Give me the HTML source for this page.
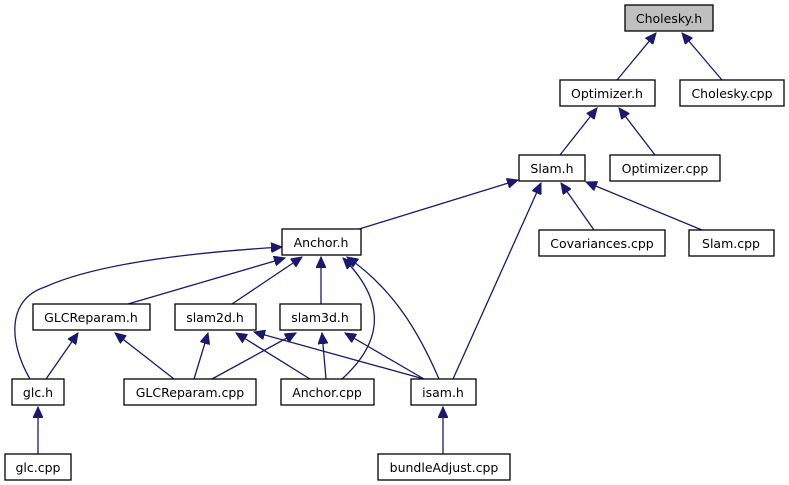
<!DOCTYPE html>
<html><head><meta charset="utf-8"><style>
html,body{margin:0;padding:0;background:#fff;}
svg{display:block;}
text{font-family:"DejaVu Sans","Liberation Sans",sans-serif;font-size:12.5px;fill:#000;text-anchor:middle;}
rect{fill:#fff;stroke:#000;stroke-width:1.3;}
.e{fill:none;stroke:#191970;stroke-width:1.3;}
</style></head><body>
<svg width="789" height="485" viewBox="0 0 789 485" xmlns="http://www.w3.org/2000/svg">
<defs>
<marker id="a" markerWidth="12" markerHeight="10" refX="11" refY="5" orient="auto" markerUnits="userSpaceOnUse">
<path d="M0,0 L11,5 L0,10 Z" fill="#191970" stroke="#191970"/>
</marker>
</defs>
<g class="edges">
<path class="e" marker-end="url(#a)" d="M617,80 L656,33"/>
<path class="e" marker-end="url(#a)" d="M722,80 L682,33"/>
<path class="e" marker-end="url(#a)" d="M560,155 L597,108"/>
<path class="e" marker-end="url(#a)" d="M655,155 L619,108"/>
<path class="e" marker-end="url(#a)" d="M594,230 L561,183"/>
<path class="e" marker-end="url(#a)" d="M702,230 L586,182"/>
<path class="e" marker-end="url(#a)" d="M453,379 L541,183"/>
<path class="e" marker-end="url(#a)" d="M356,230 L518,180"/>
<path class="e" marker-end="url(#a)" d="M128,304 L285,258"/>
<path class="e" marker-end="url(#a)" d="M232,304 L302,257"/>
<path class="e" marker-end="url(#a)" d="M321,304 L321,257"/>
<path class="e" marker-end="url(#a)" d="M30,379 C10,345 5,300 45,287 C100,262 200,252 282,247"/>
<path class="e" marker-end="url(#a)" d="M342,379 C385,340 385,300 343,258"/>
<path class="e" marker-end="url(#a)" d="M439,379 C420,335 395,290 347,257"/>
<path class="e" marker-end="url(#a)" d="M46,379 L78,333"/>
<path class="e" marker-end="url(#a)" d="M174,379 L115,333"/>
<path class="e" marker-end="url(#a)" d="M194,379 L208,333"/>
<path class="e" marker-end="url(#a)" d="M212,379 L296,333"/>
<path class="e" marker-end="url(#a)" d="M310,379 L236,333"/>
<path class="e" marker-end="url(#a)" d="M326,379 L322,333"/>
<path class="e" marker-end="url(#a)" d="M424,379 L254,332"/>
<path class="e" marker-end="url(#a)" d="M424,379 L345,333"/>
<path class="e" marker-end="url(#a)" d="M38,454 L38,407"/>
<path class="e" marker-end="url(#a)" d="M443,454 L443,407"/>
</g>
<g>
<rect x="625" y="5" width="88" height="26" style="fill:#bfbfbf"/><text x="669" y="23">Cholesky.h</text>
<rect x="560" y="80" width="95" height="26"/><text x="607" y="98">Optimizer.h</text>
<rect x="680" y="80" width="104" height="26"/><text x="732" y="98">Cholesky.cpp</text>
<rect x="519" y="155" width="66" height="26"/><text x="552" y="173">Slam.h</text>
<rect x="610" y="155" width="110" height="26"/><text x="665" y="173">Optimizer.cpp</text>
<rect x="539" y="230" width="126" height="26"/><text x="602" y="248">Covariances.cpp</text>
<rect x="689" y="230" width="85" height="26"/><text x="731" y="248">Slam.cpp</text>
<rect x="282" y="229" width="79" height="26"/><text x="321" y="247">Anchor.h</text>
<rect x="33" y="304" width="117" height="26"/><text x="91" y="322">GLCReparam.h</text>
<rect x="175" y="304" width="81" height="26"/><text x="215" y="322">slam2d.h</text>
<rect x="280" y="304" width="81" height="26"/><text x="320" y="322">slam3d.h</text>
<rect x="12" y="379" width="52" height="26"/><text x="38" y="397">glc.h</text>
<rect x="124" y="379" width="132" height="26"/><text x="190" y="397">GLCReparam.cpp</text>
<rect x="281" y="379" width="93" height="26"/><text x="327" y="397">Anchor.cpp</text>
<rect x="411" y="379" width="65" height="26"/><text x="443" y="397">isam.h</text>
<rect x="5" y="454" width="66" height="26"/><text x="38" y="472">glc.cpp</text>
<rect x="378" y="454" width="132" height="26"/><text x="444" y="472">bundleAdjust.cpp</text>
</g>
</svg>
</body></html>
